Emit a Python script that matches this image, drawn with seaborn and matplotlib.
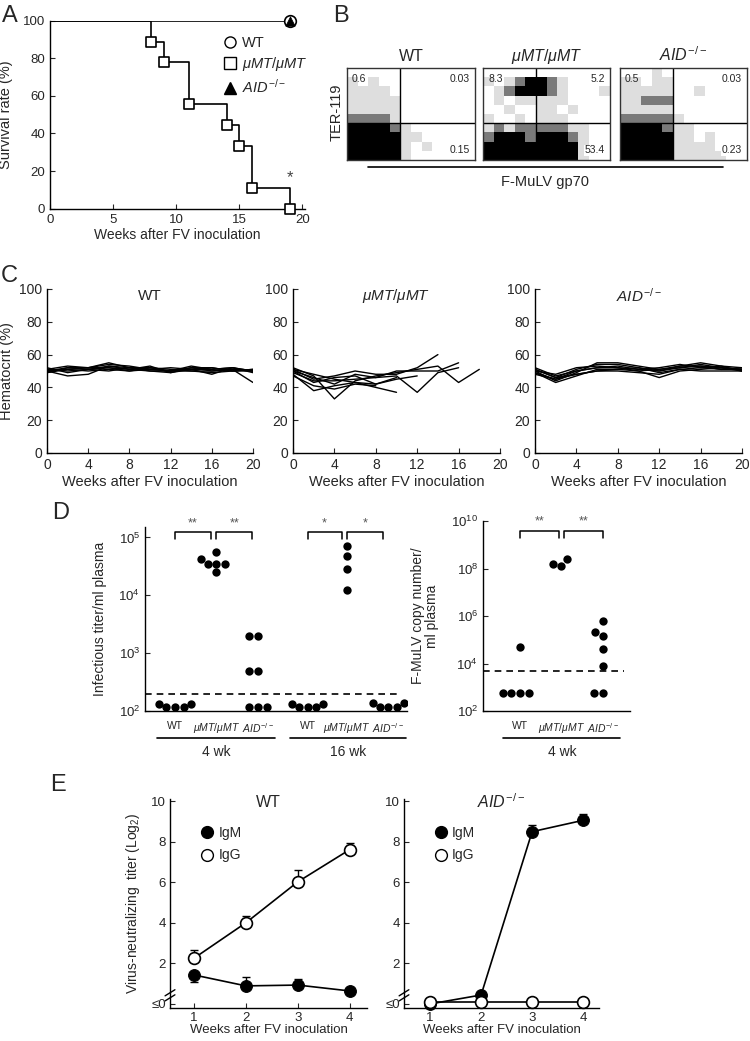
import numpy as np
import pandas as pd
import matplotlib
matplotlib.use("Agg")
import matplotlib.pyplot as plt
import seaborn as sns
from matplotlib.colors import ListedColormap
from matplotlib.lines import Line2D
from matplotlib import transforms
from matplotlib.ticker import NullLocator

sns.set_style("ticks")
plt.rcParams['font.family'] = ['Liberation Sans', 'DejaVu Sans']
plt.rcParams['mathtext.fontset'] = 'custom'
plt.rcParams['mathtext.rm'] = 'Liberation Sans'
plt.rcParams['mathtext.it'] = 'Liberation Sans:italic'
plt.rcParams['mathtext.bf'] = 'Liberation Sans:bold'
plt.rcParams['xtick.direction'] = 'in'
plt.rcParams['ytick.direction'] = 'in'
plt.rcParams['axes.linewidth'] = 1.0
plt.rcParams['axes.edgecolor'] = 'black'

# ---------------- data ----------------
# A: survival (%)
surv_weeks_mt = [0, 8, 9, 11, 14, 15, 16, 19]
surv_mt = [100, 88.9, 77.8, 55.6, 44.4, 33.3, 11.1, 0]
surv_weeks_wt = [0, 19]
surv_wt = [100, 100]
surv_weeks_aid = [19]
surv_aid = [100]

# B: flow cytometry density (rows top->bottom, 0 empty .. 3 dense)
flow_wt = [
    [0, 0, 0, 0, 0, 0, 0, 0, 0, 0, 0, 0],
    [1, 0, 1, 0, 0, 0, 0, 0, 0, 0, 0, 0],
    [1, 1, 1, 1, 0, 0, 0, 0, 0, 0, 0, 0],
    [1, 1, 1, 1, 1, 0, 0, 0, 0, 0, 0, 0],
    [1, 1, 1, 1, 1, 0, 0, 0, 0, 0, 0, 0],
    [2, 2, 2, 2, 1, 0, 0, 0, 0, 0, 0, 0],
    [3, 3, 3, 3, 2, 1, 0, 0, 0, 0, 0, 0],
    [3, 3, 3, 3, 3, 1, 1, 0, 0, 0, 0, 0],
    [3, 3, 3, 3, 3, 1, 0, 1, 0, 0, 0, 0],
    [3, 3, 3, 3, 3, 1, 0, 0, 0, 0, 0, 0],
]
flow_mt = [
    [0, 0, 0, 0, 0, 0, 0, 0, 0, 0, 0, 0],
    [1, 0, 1, 2, 3, 3, 2, 1, 0, 0, 0, 0],
    [0, 1, 2, 3, 3, 3, 2, 1, 0, 0, 0, 1],
    [0, 1, 0, 1, 1, 1, 1, 1, 0, 0, 0, 0],
    [0, 0, 1, 0, 0, 1, 1, 0, 1, 0, 0, 0],
    [1, 0, 0, 1, 0, 1, 1, 1, 0, 0, 0, 0],
    [1, 2, 1, 2, 2, 2, 2, 2, 1, 1, 0, 0],
    [2, 3, 3, 3, 2, 3, 3, 3, 2, 1, 0, 0],
    [3, 3, 3, 3, 3, 3, 3, 3, 3, 1, 0, 0],
    [3, 3, 3, 3, 3, 3, 3, 3, 3, 1, 0, 0],
]
flow_aid = [
    [0, 0, 0, 1, 0, 0, 0, 0, 0, 0, 0, 0],
    [1, 1, 0, 1, 1, 0, 0, 0, 0, 0, 0, 0],
    [1, 1, 1, 1, 1, 0, 0, 1, 0, 0, 0, 0],
    [1, 1, 2, 2, 2, 0, 0, 0, 0, 0, 0, 0],
    [1, 1, 1, 1, 1, 0, 0, 0, 0, 0, 0, 0],
    [2, 2, 2, 2, 2, 1, 0, 0, 0, 0, 0, 0],
    [3, 3, 3, 3, 2, 1, 1, 0, 0, 0, 0, 0],
    [3, 3, 3, 3, 3, 1, 1, 0, 1, 0, 0, 0],
    [3, 3, 3, 3, 3, 1, 1, 1, 1, 0, 0, 0],
    [3, 3, 3, 3, 3, 1, 1, 1, 1, 1, 0, 0],
]
quad_wt = ['0.6', '0.03', '0.15']
quad_mt = ['8.3', '5.2', '53.4']
quad_aid = ['0.5', '0.03', '0.23']

# C: hematocrit (%) every 2 weeks
hct_weeks = [0, 2, 4, 6, 8, 10, 12, 14, 16, 18, 20]
hct_wt = [
    [51, 53, 52, 55, 52, 52, 50, 53, 51, 52, 50],
    [50, 47, 48, 53, 51, 53, 49, 52, 52, 50, 51],
    [49, 52, 52, 54, 53, 51, 50, 52, 50, 51, 50],
    [51, 50, 51, 50, 52, 50, 49, 51, 48, 52, 49],
    [50, 51, 50, 51, 50, 52, 51, 50, 50, 51, 43],
    [52, 49, 51, 52, 51, 50, 50, 51, 51, 52, 50],
    [50, 52, 51, 53, 52, 51, 50, 50, 49, 50, 51],
    [49, 51, 52, 52, 50, 51, 52, 51, 52, 50, 50],
]
hct_mt = [
    [52, 47, 33, 44, 47, 49, 51, 53, 43, 51],
    [50, 46, 42, 48, 46, 50, 50, 50, 55],
    [51, 45, 47, 50, 48, 48, 52, 60],
    [49, 44, 44, 45, 46, 47, 37, 49, 52],
    [48, 38, 41, 43, 40, 37],
    [50, 43, 46, 47, 42, 45, 47],
    [51, 48, 45, 43, 42, 46],
    [47, 41, 39, 42, 41],
]
hct_aid = [
    [51, 46, 51, 54, 54, 52, 50, 52, 53, 52, 51],
    [50, 44, 49, 55, 55, 53, 51, 53, 55, 53, 52],
    [49, 43, 47, 51, 51, 50, 46, 50, 51, 52, 50],
    [52, 47, 50, 52, 53, 51, 52, 54, 52, 51, 51],
    [48, 45, 48, 50, 50, 49, 48, 51, 50, 50, 50],
    [50, 48, 52, 53, 52, 50, 51, 52, 54, 52, 51],
    [51, 46, 48, 50, 51, 52, 49, 51, 52, 53, 50],
    [49, 45, 50, 52, 52, 51, 50, 53, 53, 51, 52],
]

# D: infectious titer / ml plasma
inf_wt_4 = [115, 115, 115, 130, 130]
inf_mt_4 = [56000, 43000, 35000, 35000, 35000, 25000]
inf_aid_4 = [2000, 2000, 500, 500, 115, 115, 115]
inf_wt_16 = [115, 115, 115, 130, 130]
inf_mt_16 = [72000, 48000, 28000, 12500]
inf_aid_16 = [115, 115, 115, 135, 135]
inf_limit = 200
# D: F-MuLV copy number / ml plasma (4 wk)
copy_wt = [50000, 600, 600, 600, 600]
copy_mt = [250000000, 150000000, 130000000]
copy_aid = [600000, 220000, 150000, 40000, 7500, 600, 600]
copy_limit = 5000

# E: virus-neutralizing titer (log2)
e_weeks = [1, 2, 3, 4]
wt_igm = [1.43, 0.89, 0.93, 0.64]
wt_igm_lo = [0.33, 0, 0, 0]
wt_igm_hi = [0, 0.42, 0.30, 0.16]
wt_igg = [2.25, 4.0, 6.02, 7.61]
wt_igg_hi = [0.41, 0.33, 0.60, 0.32]
aid_igm = [0.0, 0.44, 8.49, 9.05]
aid_igm_lo = [0, 0, 0, 0]
aid_igm_hi = [0, 0, 0.31, 0.29]
aid_igg = [0.08, 0.08, 0.08, 0.08]
aid_igg_hi = [0, 0, 0, 0]

geno_labels = ['WT', r'$\mathit{μMT/μMT}$', r'$\mathit{AID}^{-/-}$']

# ---------------- layout ----------------
W, H = 750, 1041
fig = plt.figure(figsize=(7.5, 10.41), dpi=100)


def box(x0, y0, x1, y1):
    return [x0 / W, 1 - y1 / H, (x1 - x0) / W, (y1 - y0) / H]


for letter, x, y in [('A', 2, 16), ('B', 333, 16), ('C', 1, 276), ('D', 52, 513), ('E', 50, 785)]:
    fig.text(x / W, 1 - y / H, letter, fontsize=17, ha='left', va='center')

# ---- A ----
axA = fig.add_axes(box(50, 20.7, 305, 208.7))
sns.lineplot(x=surv_weeks_mt, y=surv_mt, drawstyle='steps-post', color='black', lw=1.2, ax=axA)
sns.lineplot(x=surv_weeks_wt, y=surv_wt, color='black', lw=1.2, ax=axA)
sns.scatterplot(x=surv_weeks_mt[1:], y=surv_mt[1:], marker='s', s=55, color='white',
                edgecolor='black', linewidth=1.2, zorder=3, clip_on=False, ax=axA)
sns.scatterplot(x=[surv_weeks_wt[-1]], y=[surv_wt[-1]], marker='o', s=70, color='white',
                edgecolor='black', linewidth=1.2, zorder=3, clip_on=False, ax=axA)
sns.scatterplot(x=surv_weeks_aid, y=surv_aid, marker='^', s=45, color='black',
                edgecolor='black', zorder=4, clip_on=False, ax=axA)
axA.text(19, 16.5, '*', ha='center', va='center', fontsize=12, color='#444444')
axA.set_xlim(0, 20.2)
axA.set_ylim(0, 100)
axA.set_xticks([0, 5, 10, 15, 20])
axA.set_yticks([0, 20, 40, 60, 80, 100])
sns.despine(ax=axA)
axA.tick_params(labelsize=9.5)
axA.set_xlabel('Weeks after FV inoculation', fontsize=10, labelpad=2)
axA.set_ylabel('Survival rate (%)', fontsize=10.5)
axA.yaxis.set_label_coords(-0.145, 0.5)
hA = [Line2D([], [], marker='o', ls='none', mfc='white', mec='black', ms=8),
      Line2D([], [], marker='s', ls='none', mfc='white', mec='black', ms=8),
      Line2D([], [], marker='^', ls='none', mfc='black', mec='black', ms=8)]
axA.legend(hA, geno_labels, loc='upper left', bbox_to_anchor=(0.62, 0.99), frameon=False,
           handletextpad=0.2, labelspacing=0.35, handlelength=1.2, prop={'size': 10.5})

# ---- B ----
flow_cmap = ListedColormap(['white', '#dedede', '#7a7a7a', 'black'])
b_boxes = [(347, 475), (483, 610), (620, 747)]
for (x0, x1), mat, quad, title in zip(b_boxes, [flow_wt, flow_mt, flow_aid],
                                      [quad_wt, quad_mt, quad_aid], geno_labels):
    ax = fig.add_axes(box(x0, 68, x1, 160))
    sns.heatmap(np.array(mat), ax=ax, cmap=flow_cmap, vmin=-0.5, vmax=3.5, cbar=False,
                xticklabels=False, yticklabels=False)
    for s in ax.spines.values():
        s.set_visible(True)
        s.set_color('#333333')
        s.set_linewidth(1.0)
    ax.axvline(5, color='black', lw=1.0)
    ax.axhline(6, color='black', lw=1.0)
    ax.text(0.04, 0.93, quad[0], transform=ax.transAxes, ha='left', va='top', fontsize=7.5)
    ax.text(0.96, 0.93, quad[1], transform=ax.transAxes, ha='right', va='top', fontsize=7.5)
    ax.text(0.96, 0.05, quad[2], transform=ax.transAxes, ha='right', va='bottom', fontsize=7.5,
            bbox=dict(facecolor='white', edgecolor='none', pad=0.5))
    ax.set_title(title, fontsize=11.5, pad=5)
fig.add_artist(Line2D([368 / W, 723 / W], [1 - 167 / H, 1 - 167 / H], color='black', lw=1.2))
fig.text(545 / W, 1 - 182 / H, 'F-MuLV gp70', ha='center', va='center', fontsize=10.5)
fig.text(337 / W, 1 - 112 / H, 'TER-119', ha='center', va='center', rotation=90, fontsize=10.5)

# ---- C ----
c_boxes = [(47, 253), (293, 500), (535, 742)]
for i, ((x0, x1), lines, title) in enumerate(zip(c_boxes, [hct_wt, hct_mt, hct_aid], geno_labels)):
    ax = fig.add_axes(box(x0, 289, x1, 453))
    rows = []
    for m, vals in enumerate(lines):
        for wk, v in zip(hct_weeks, vals):
            rows.append({'mouse': m, 'week': wk, 'hct': v})
    df = pd.DataFrame(rows)
    sns.lineplot(data=df, x='week', y='hct', units='mouse', estimator=None,
                 color='black', lw=1.0, ax=ax)
    ax.set_xlim(0, 20)
    ax.set_ylim(0, 100)
    ax.set_xticks([0, 4, 8, 12, 16, 20])
    ax.set_yticks([0, 20, 40, 60, 80, 100])
    sns.despine(ax=ax)
    ax.tick_params(labelsize=10)
    ax.set_xlabel('Weeks after FV inoculation', fontsize=10.5, labelpad=2)
    ax.set_ylabel('')
    ax.text(0.5, 0.96, title, transform=ax.transAxes, ha='center', va='center', fontsize=11)
    if i == 0:
        ax.set_ylabel('Hematocrit (%)', fontsize=10.5)
        ax.yaxis.set_label_coords(-0.16, 0.5)


# ---- D ----
def bracket(ax, xa, xb, tip, bar, star_y, stars):
    ax.plot([xa, xa, xb, xb], [tip, bar, bar, tip], color='black', lw=1.1, clip_on=False)
    ax.text((xa + xb) / 2, star_y, stars, ha='center', va='center', fontsize=9, color='#555555')


def group_line(ax, x0, x1, label):
    trans = transforms.blended_transform_factory(ax.transData, fig.transFigure)
    ax.plot([x0, x1], [1 - 738 / H, 1 - 738 / H], color='black', lw=1.2, transform=trans, clip_on=False)
    ax.text((x0 + x1) / 2, 1 - 752 / H, label, ha='center', va='center', fontsize=10, transform=trans)


d_pos = [0, 1, 2, 3.2, 4.15, 5.15]
inf_groups = [inf_wt_4, inf_mt_4, inf_aid_4, inf_wt_16, inf_mt_16, inf_aid_16]
df_inf = pd.DataFrame([{'pos': p, 'titer': v} for p, g in zip(d_pos, inf_groups) for v in g])
axD1 = fig.add_axes(box(145, 527, 407, 711))
sns.swarmplot(data=df_inf, x='pos', y='titer', native_scale=True, log_scale=(False, True),
              color='black', size=6, ax=axD1)
axD1.set_ylim(100, 10 ** 5.18)
axD1.set_xlim(-0.72, 5.6)
axD1.set_yticks([1e2, 1e3, 1e4, 1e5])
axD1.yaxis.set_minor_locator(NullLocator())
axD1.axhline(inf_limit, xmin=0, xmax=0.965, color='black', lw=1.2, ls=(0, (4, 3)))
axD1.set_xticks(d_pos)
axD1.set_xticklabels(geno_labels * 2, fontsize=7.5)
axD1.tick_params(axis='x', length=0, pad=7)
axD1.tick_params(axis='y', labelsize=9.5)
sns.despine(ax=axD1)
axD1.set_xlabel('')
axD1.set_ylabel('Infectious titer/ml plasma', fontsize=10)
axD1.yaxis.set_label_coords(-0.145, 0.5)
for a, b, st in [(0, 1, '**'), (1, 2, '**'), (3, 4, '*'), (4, 5, '*')]:
    bracket(axD1, d_pos[a], d_pos[b] - 0.13, 10 ** 4.98, 10 ** 5.09, 10 ** 5.25, st)
group_line(axD1, d_pos[0] - 0.42, d_pos[2] + 0.42, '4 wk')
group_line(axD1, d_pos[3] - 0.42, d_pos[5] + 0.42, '16 wk')

c_pos = [0, 1, 2]
df_copy = pd.DataFrame([{'pos': p, 'copies': v} for p, g in zip(c_pos, [copy_wt, copy_mt, copy_aid]) for v in g])
axD2 = fig.add_axes(box(483, 521, 630, 711))
sns.swarmplot(data=df_copy, x='pos', y='copies', native_scale=True, log_scale=(False, True),
              color='black', size=6, ax=axD2)
axD2.set_ylim(100, 1e10)
axD2.set_xlim(-0.89, 2.65)
axD2.set_yticks([1e2, 1e4, 1e6, 1e8, 1e10])
axD2.yaxis.set_minor_locator(NullLocator())
axD2.axhline(copy_limit, xmin=0, xmax=0.96, color='black', lw=1.2, ls=(0, (4, 3)))
axD2.set_xticks(c_pos)
axD2.set_xticklabels(geno_labels, fontsize=7.5)
axD2.tick_params(axis='x', length=0, pad=7)
axD2.tick_params(axis='y', labelsize=9.5)
sns.despine(ax=axD2)
axD2.set_xlabel('')
axD2.set_ylabel('F-MuLV copy number/\nml plasma', fontsize=10, linespacing=1.0)
axD2.yaxis.set_label_coords(-0.3, 0.5)
bracket(axD2, c_pos[0], c_pos[1] - 0.07, 10 ** 9.28, 10 ** 9.58, 10 ** 9.97, '**')
bracket(axD2, c_pos[1] + 0.07, c_pos[2], 10 ** 9.28, 10 ** 9.58, 10 ** 9.97, '**')
group_line(axD2, c_pos[0] - 0.4, c_pos[2] + 0.42, '4 wk')


# ---- E ----
def draw_e(ax, igm, igm_lo, igm_hi, igg, igg_hi, title):
    ax.errorbar(e_weeks, igm, yerr=[igm_lo, igm_hi], fmt='none', ecolor='black', capsize=3,
                elinewidth=1.0, capthick=1.0, zorder=2)
    ax.errorbar(e_weeks, igg, yerr=[[0] * len(igg), igg_hi], fmt='none', ecolor='black', capsize=3,
                elinewidth=1.0, capthick=1.0, zorder=2)
    sns.lineplot(x=e_weeks, y=igm, ax=ax, color='black', lw=1.2, marker='o', markersize=8.5,
                 markerfacecolor='black', markeredgecolor='black', zorder=3, clip_on=False)
    sns.lineplot(x=e_weeks, y=igg, ax=ax, color='black', lw=1.2, marker='o', markersize=8.5,
                 markerfacecolor='white', markeredgecolor='black', markeredgewidth=1.2,
                 zorder=4, clip_on=False)
    ax.set_ylim(-0.2, 10.1)
    ax.set_xticks(e_weeks)
    ax.set_yticks([0, 2, 4, 6, 8, 10])
    ax.set_yticklabels(['≤0', '2', '4', '6', '8', '10'])
    sns.despine(ax=ax)
    ax.tick_params(labelsize=9.5, pad=3)
    ax.set_xlabel('Weeks after FV inoculation', fontsize=9.5, labelpad=0)
    ax.text(0.5, 0.985, title, transform=ax.transAxes, ha='center', va='center', fontsize=11.5)
    hE = [Line2D([], [], marker='o', ls='none', mfc='black', mec='black', ms=8.5),
          Line2D([], [], marker='o', ls='none', mfc='white', mec='black', ms=8.5)]
    ax.legend(hE, ['IgM', 'IgG'], loc='upper left', bbox_to_anchor=(0.09, 0.93), frameon=False,
              handletextpad=0.3, labelspacing=0.6, handlelength=1.0, prop={'size': 10})
    trans = transforms.blended_transform_factory(ax.transAxes, ax.transData)
    for yb in [0.3, 0.55]:
        ax.plot([-0.025, 0.025], [yb - 0.15, yb + 0.15], color='black', lw=1.0, transform=trans, clip_on=False)


axE1 = fig.add_axes(box(170, 799, 367, 1008))
draw_e(axE1, wt_igm, wt_igm_lo, wt_igm_hi, wt_igg, wt_igg_hi, 'WT')
axE1.set_xlim(0.54, 4.33)
axE1.set_ylabel('Virus-neutralizing  titer (Log$_2$)', fontsize=10)
axE1.yaxis.set_label_coords(-0.142, 0.5)

axE2 = fig.add_axes(box(404, 799, 599, 1008))
draw_e(axE2, aid_igm, aid_igm_lo, aid_igm_hi, aid_igg, aid_igg_hi, geno_labels[2])
axE2.set_xlim(0.49, 4.31)
axE2.set_ylabel('')

fig.savefig('out.png', dpi=100)
